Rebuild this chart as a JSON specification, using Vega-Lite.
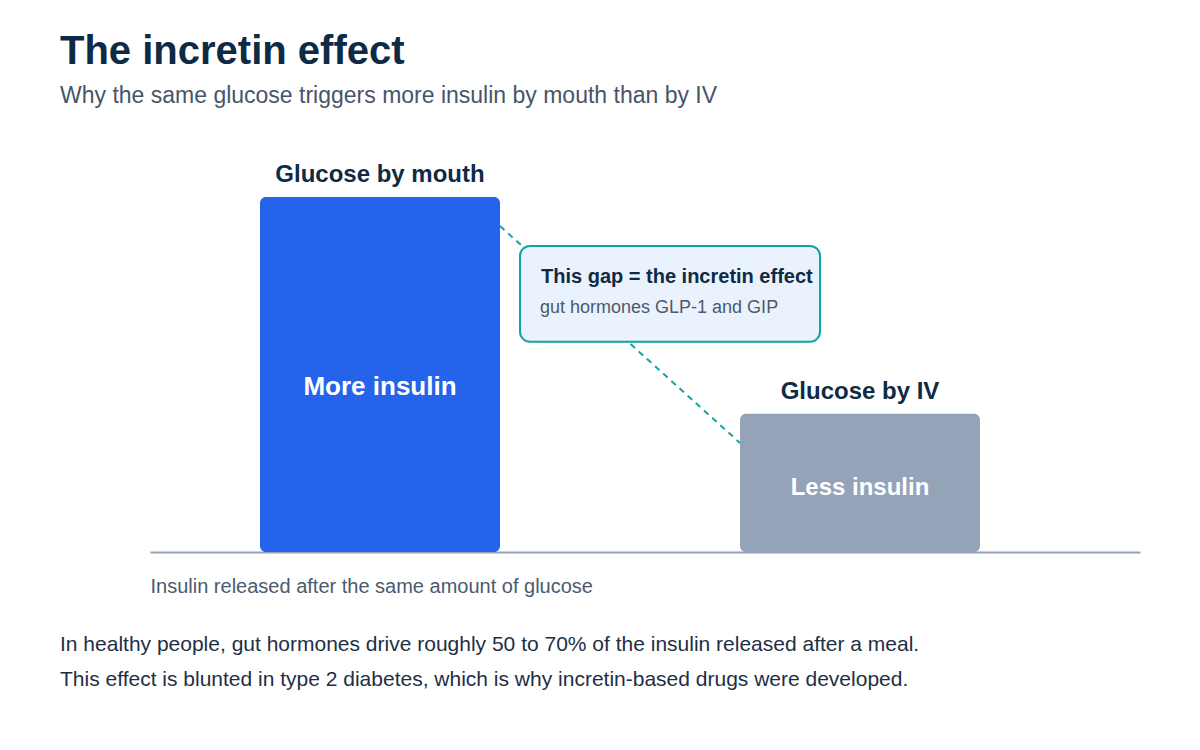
{
  "$schema": "https://vega.github.io/schema/vega-lite/v6.json",
  "width": 990,
  "height": 402,
  "autosize": {"type": "none"},
  "padding": {"left": 150, "top": 150, "right": 60, "bottom": 198},
  "background": "white",
  "config": {
    "view": {"stroke": null},
    "font": "Liberation Sans",
    "text": {"font": "Liberation Sans"}
  },
  "title": {
    "text": "The incretin effect",
    "subtitle": "Why the same glucose triggers more insulin by mouth than by IV",
    "anchor": "start",
    "frame": "group",
    "dx": -90,
    "offset": 42,
    "font": "Liberation Sans",
    "fontSize": 40,
    "fontWeight": "bold",
    "color": "#0f2a44",
    "subtitleFont": "Liberation Sans",
    "subtitleFontSize": 23,
    "subtitleColor": "#475569",
    "subtitlePadding": 13
  },
  "datasets": {
    "bars": [
      {"condition": "Glucose by mouth", "label": "More insulin", "start": 11, "end": 35, "insulin": 100, "group": "oral"},
      {"condition": "Glucose by IV", "label": "Less insulin", "start": 59, "end": 83, "insulin": 38.9, "group": "iv"}
    ],
    "gap": [
      {"x": 35, "y": 91.8, "x2": 59, "y2": 30.7}
    ],
    "callout": [
      {"left": 37, "right": 67, "bottom": 59.2, "top": 86.2}
    ],
    "calloutHead": [
      {"text": "This gap = the incretin effect", "x": 39.1, "y": 77.5}
    ],
    "calloutBody": [
      {"text": "gut hormones GLP-1 and GIP", "x": 39.0, "y": 68.7}
    ],
    "notes": [
      {"text": "In healthy people, gut hormones drive roughly 50 to 70% of the insulin released after a meal.", "x": -9, "y": -26.1},
      {"text": "This effect is blunted in type 2 diabetes, which is why incretin-based drugs were developed.", "x": -9, "y": -36.0}
    ]
  },
  "layer": [
    {
      "data": {"name": "bars"},
      "mark": {"type": "bar", "cornerRadius": 6},
      "encoding": {
        "x": {
          "field": "start",
          "type": "quantitative",
          "scale": {"domain": [0, 99], "nice": false, "zero": false},
          "axis": {
            "title": "Insulin released after the same amount of glucose",
            "titleAnchor": "start",
            "titleAlign": "left",
            "titleFont": "Liberation Sans",
            "titleFontSize": 20,
            "titleFontWeight": "normal",
            "titleColor": "#4b5a6e",
            "titlePadding": 24,
            "labels": false,
            "ticks": false,
            "grid": false,
            "domainColor": "#94a3b8",
            "domainWidth": 2
          }
        },
        "x2": {"field": "end"},
        "y": {
          "field": "insulin",
          "type": "quantitative",
          "scale": {"domain": [0, 113.2], "nice": false},
          "axis": null
        },
        "y2": {"datum": 0},
        "color": {
          "field": "group",
          "type": "nominal",
          "scale": {"domain": ["oral", "iv"], "range": ["#2563eb", "#94a3b8"]},
          "legend": null
        }
      }
    },
    {
      "data": {"name": "bars"},
      "transform": [
        {"calculate": "(datum.start + datum.end) / 2", "as": "mid"}
      ],
      "mark": {"type": "text", "baseline": "middle", "align": "center", "dy": -22, "fontSize": 24, "fontWeight": "bold", "color": "#0f2a44"},
      "encoding": {
        "x": {"field": "mid", "type": "quantitative"},
        "y": {"field": "insulin", "type": "quantitative"},
        "text": {"field": "condition"}
      }
    },
    {
      "data": {"name": "bars"},
      "transform": [
        {"calculate": "(datum.start + datum.end) / 2", "as": "mid"},
        {"calculate": "datum.insulin * 0.465", "as": "labelPos"}
      ],
      "mark": {"type": "text", "baseline": "middle", "align": "center", "fontWeight": "bold", "color": "white"},
      "encoding": {
        "x": {"field": "mid", "type": "quantitative"},
        "y": {"field": "labelPos", "type": "quantitative"},
        "text": {"field": "label"},
        "size": {"condition": {"test": "datum.group === 'oral'", "value": 26}, "value": 24}
      }
    },
    {
      "data": {"name": "gap"},
      "mark": {"type": "rule", "color": "#14a3a3", "strokeWidth": 2, "strokeDash": [6, 5]},
      "encoding": {
        "x": {"field": "x", "type": "quantitative"},
        "y": {"field": "y", "type": "quantitative"},
        "x2": {"field": "x2"},
        "y2": {"field": "y2"}
      }
    },
    {
      "data": {"name": "callout"},
      "mark": {"type": "rect", "fill": "#eaf2fd", "stroke": "#14a3a3", "strokeWidth": 2, "cornerRadius": 10},
      "encoding": {
        "x": {"field": "left", "type": "quantitative"},
        "x2": {"field": "right"},
        "y": {"field": "bottom", "type": "quantitative"},
        "y2": {"field": "top"}
      }
    },
    {
      "data": {"name": "calloutHead"},
      "mark": {"type": "text", "align": "left", "baseline": "middle", "fontSize": 20, "fontWeight": "bold", "color": "#0f2a44"},
      "encoding": {
        "x": {"field": "x", "type": "quantitative"},
        "y": {"field": "y", "type": "quantitative"},
        "text": {"field": "text"}
      }
    },
    {
      "data": {"name": "calloutBody"},
      "mark": {"type": "text", "align": "left", "baseline": "middle", "fontSize": 18, "color": "#4b5a6e"},
      "encoding": {
        "x": {"field": "x", "type": "quantitative"},
        "y": {"field": "y", "type": "quantitative"},
        "text": {"field": "text"}
      }
    },
    {
      "data": {"name": "notes"},
      "mark": {"type": "text", "align": "left", "baseline": "middle", "fontSize": 21, "color": "#1e2f45"},
      "encoding": {
        "x": {"field": "x", "type": "quantitative"},
        "y": {"field": "y", "type": "quantitative"},
        "text": {"field": "text"}
      }
    }
  ]
}
